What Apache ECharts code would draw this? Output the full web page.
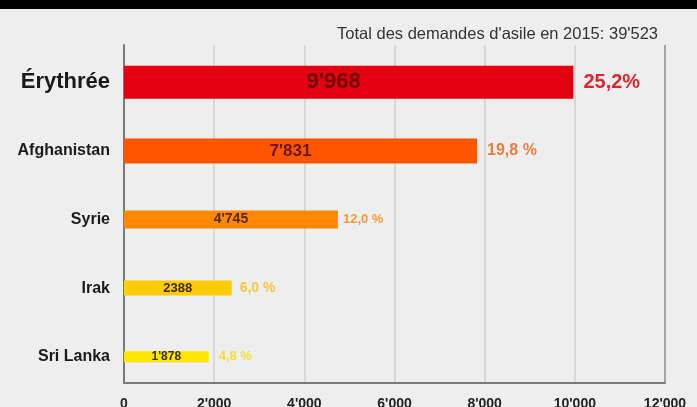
<!DOCTYPE html>
<html><head><meta charset="utf-8">
<script src="https://cdn.jsdelivr.net/npm/echarts@6/dist/echarts.min.js"></script>
<style>html,body{margin:0;padding:0;background:#eeeeee}#c{width:697px;height:407px}</style>
</head><body><div id="c"></div>
<script>
const categories = ['Érythrée', 'Afghanistan', 'Syrie', 'Irak', 'Sri Lanka'];
const values = [9968, 7831, 4745, 2388, 1878];
const valueLabels = ["9'968", "7'831", "4'745", "2388", "1'878"];
const percentLabels = ['25,2%', '19,8 %', '12,0 %', '6,0 %', '4,8 %'];
const tickLabels = {0:'0', 2000:"2'000", 4000:"4'000", 6000:"6'000", 8000:"8'000", 10000:"10'000", 12000:"12'000"};
const titleText = "Total des demandes d'asile en 2015: 39'523";

const colors = ['#e0000f', '#ff5500', '#ff8800', '#ffcc00', '#ffe600'];
const barWidths = [33, 25, 18, 15, 11];
const innerColors = ['#6e0505', '#6a1800', '#5a2800', '#3a2c00', '#3a3200'];
const innerSizes = [22, 17, 14, 13, 12];
const innerShift = [-15, -10, 0, 0, 0];
const pctColors = ['#d8282e', '#f27a3c', '#f59a3a', '#f6c640', '#f4dc3a'];
const pctSizes = [20, 16, 13, 14, 13];
const pctDist = [10, 10, 5, 8, 10];
const catSizes = [22, 16, 16, 16, 16];

const FONT = 'Liberation Sans';
const series = [];
categories.forEach((c, i) => {
  const d = values.map((v, j) => j === i ? v : '-');
  series.push({
    type: 'bar', yAxisIndex: i + 1, xAxisIndex: 1,
    barWidth: barWidths[i], barGap: '-100%',
    data: d,
    itemStyle: { color: 'rgba(0,0,0,0)' },
    label: {
      show: true, position: 'right', distance: pctDist[i],
      formatter: () => percentLabels[i],
      color: pctColors[i], fontSize: pctSizes[i], fontWeight: 'bold', fontFamily: FONT
    },
    silent: true, z: 5
  });
  series.push({
    type: 'bar', yAxisIndex: i + 1, xAxisIndex: 1,
    barWidth: barWidths[i], barGap: '-100%',
    data: d,
    itemStyle: { color: colors[i] },
    label: {
      show: true, position: 'inside', offset: [innerShift[i], 0],
      formatter: () => valueLabels[i],
      color: innerColors[i], fontSize: innerSizes[i], fontWeight: 'bold', fontFamily: FONT
    },
    silent: true
  });
});

// axis 0: frame (axis lines + grid lines) in grid 0; axes 1..5: bars & category labels in grid 1
const yAxes = [{
  type: 'value', gridIndex: 0, min: 0, max: 1,
  axisLine: { show: true, lineStyle: { color: '#7a7a7a', width: 2 } },
  axisTick: { show: false }, axisLabel: { show: false }, splitLine: { show: false }
}].concat(categories.map((c, i) => ({
  type: 'category', data: categories, inverse: true, gridIndex: 1,
  axisLine: { show: false }, axisTick: { show: false }, splitLine: { show: false },
  axisLabel: {
    show: i === 0,
    margin: 14, fontFamily: FONT, color: '#1a1a1a', fontWeight: 'bold',
    formatter: (v, k) => '{c' + k + '|' + v + '}',
    rich: Object.fromEntries(catSizes.map((s, k) => ['c' + k, { fontSize: s, fontWeight: 'bold', color: '#1a1a1a', fontFamily: FONT }]))
  }
})));

const chart = echarts.init(document.getElementById('c'), null, { renderer: 'canvas' });
chart.setOption({
  backgroundColor: '#eeeeee',
  animation: false,
  graphic: [
    { type: 'rect', left: 0, top: 0, shape: { width: 697, height: 9 }, style: { fill: '#000' } }
  ],
  title: {
    text: titleText, right: 34, top: 21,
    textStyle: { fontSize: 16.5, fontWeight: 'normal', color: '#333', fontFamily: FONT }
  },
  grid: [
    { left: 124, right: 32, top: 45, bottom: 24, containLabel: false, outerBoundsMode: 'none' },
    { left: 124, right: 32, top: 48, bottom: 16, containLabel: false, outerBoundsMode: 'none' }
  ],
  xAxis: [{
    type: 'value', gridIndex: 0, min: 0, max: 12000, interval: 2000,
    axisLine: { show: true, lineStyle: { color: '#7a7a7a', width: 2 } },
    axisTick: { show: false },
    splitLine: { show: true, lineStyle: { color: ['#cfcfcf','#cfcfcf','#cfcfcf','#cfcfcf','#cfcfcf','#cfcfcf','#8a8a8a'], width: 1.5 } },
    axisLabel: {
      margin: 14, fontSize: 14, fontWeight: 'bold', color: '#222', fontFamily: FONT,
      formatter: v => tickLabels[v] || ''
    }
  }, {
    type: 'value', gridIndex: 1, min: 0, max: 12000, interval: 2000, show: false
  }],
  yAxis: yAxes,
  series: series
});
</script></body></html>
